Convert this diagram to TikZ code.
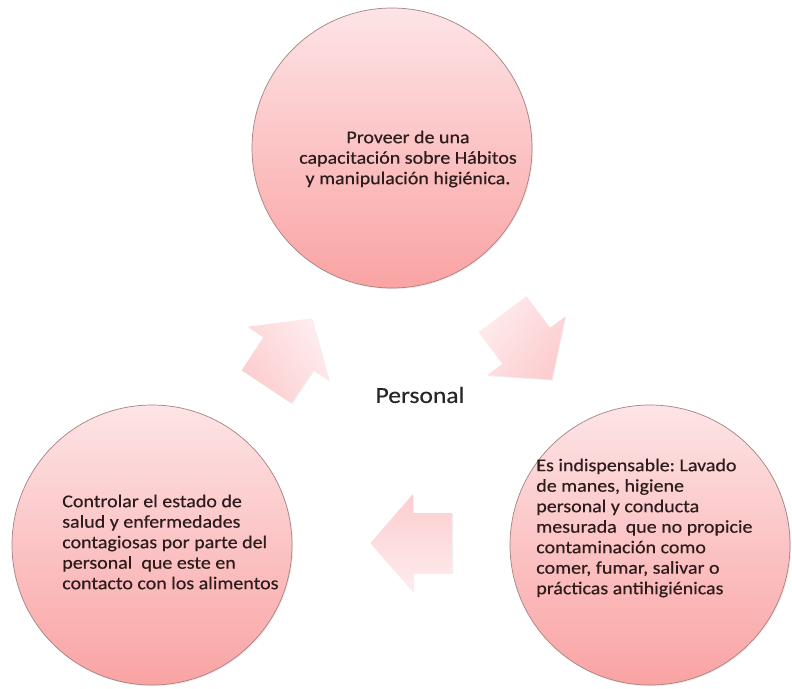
\documentclass[tikz,border=0pt]{standalone}
\usepackage{fontspec}
\setmainfont{Carlito}[FakeStretch=1.11,FakeBold=0.4]
\usepackage{tikz}
\usetikzlibrary{shapes.arrows,shadows,positioning}
\frenchspacing

\definecolor{ringtop}{RGB}{253,228,230}
\definecolor{ringbot}{RGB}{250,163,163}
\definecolor{ringline}{RGB}{165,130,130}
\definecolor{arrowtop}{RGB}{254,236,238}
\definecolor{arrowbot}{RGB}{253,205,207}
\definecolor{inktext}{RGB}{45,28,28}

\begin{document}
\begin{tikzpicture}[x=1pt,y=-1pt,semithick]
  \tikzstyle{ring}=[circle,draw=ringline,line width=0.7pt,top color=ringtop,bottom color=ringbot,
    minimum size=280pt,inner sep=0pt,drop shadow={opacity=0.15,shadow xshift=1.2pt,shadow yshift=-1.2pt}]
  \tikzstyle{blockarrow}=[single arrow,top color=arrowtop,bottom color=arrowbot,minimum height=82pt,
    minimum width=97pt,single arrow head extend=19pt,single arrow tip angle=98,inner xsep=0pt,
    inner ysep=29.5pt,anchor=tip,drop shadow={opacity=0.12,shadow xshift=1pt,shadow yshift=-1pt}]
  \tikzstyle{ringtext}=[text=inktext,font=\fontsize{18}{20.5}\selectfont,inner sep=0pt]

  \useasboundingbox (0,0) rectangle (792,688);

  % Circles
  \node[ring] (top) at (392,148) {};
  \node[ring] (left) at (152,545) {};
  \node[ring] (right) at (650,545) {};

  % Arrows, placed by their tips
  \node[blockarrow,rotate=56.5,shading angle=-56.5] (up) at (312,318) {};
  \node[blockarrow,rotate=-53,shading angle=53] (down) at (552,380) {};
  \node[blockarrow,rotate=180,shading angle=180] (back) at (370,543) {};

  % Texts
  \node[ringtext,align=center] (ttop) at (408,159)
    {Proveer de una\\capacitación sobre Hábitos\\y manipulación higiénica.};
  \node[ringtext,align=left,anchor=west] (tleft) at (62,542)
    {Controlar el estado de\\salud y enfermedades\\contagiosas por parte del\\personal\ \ que este en\\contacto con los alimentos};
  \node[ringtext,align=left,anchor=west] (tright) at (536,528)
    {Es indispensable: Lavado\\de manes, higiene\\personal y conducta\\mesurada\ \ que no propicie\\contaminación como\\comer, fumar, salivar o\\prácticas antihigiénicas};

  \node[font=\fontsize{23}{27}\selectfont,text={rgb,255:red,38;green,38;blue,38}] (hub) at (420,395) {Personal};
\end{tikzpicture}
\end{document}
